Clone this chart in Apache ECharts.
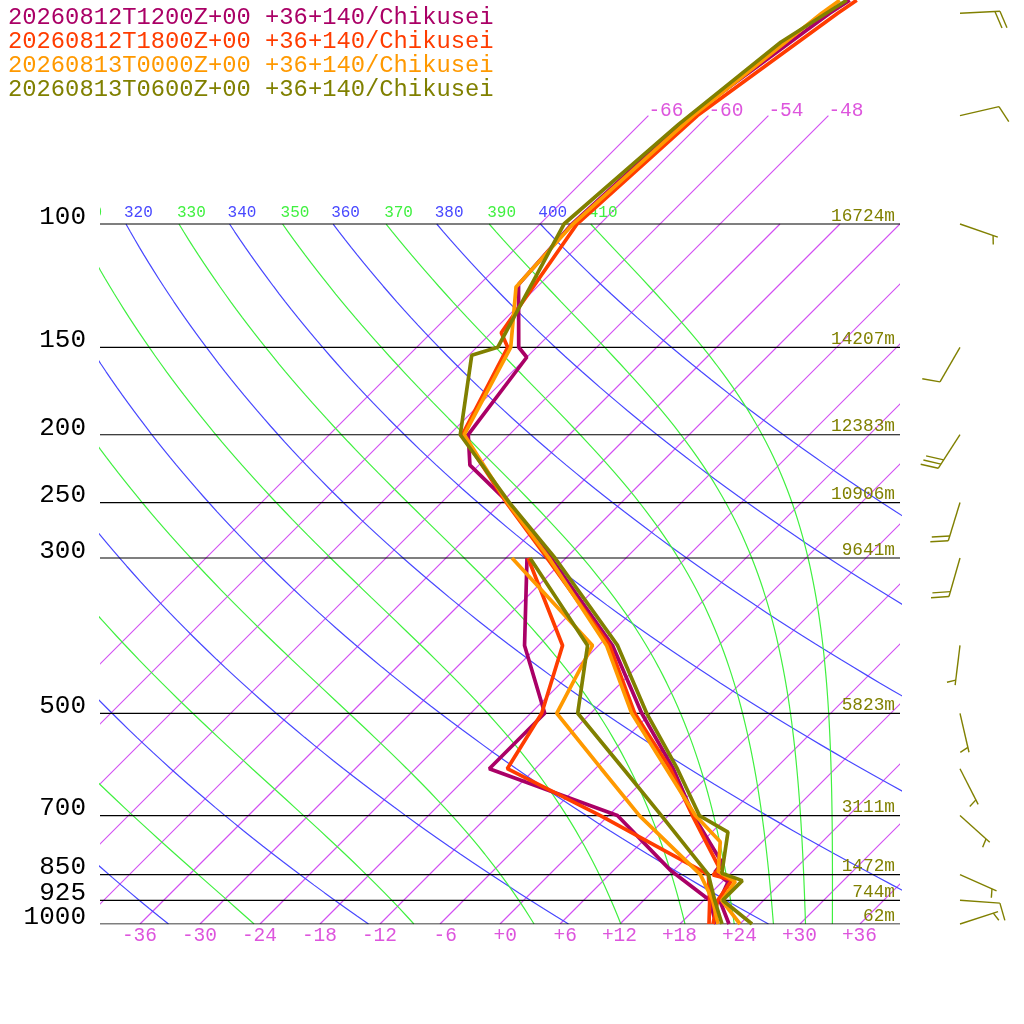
<!DOCTYPE html>
<html><head><meta charset="utf-8">
<script src="https://cdn.jsdelivr.net/npm/echarts@6/dist/echarts.min.js"></script>
<style>html,body{margin:0;padding:0;background:#fff}#c{width:1024px;height:1024px}</style>
</head><body><div id="c"></div>
<script>
// ---------------- data ----------------
const TITLES = [
  '20260812T1200Z+00 +36+140/Chikusei',
  '20260812T1800Z+00 +36+140/Chikusei',
  '20260813T0000Z+00 +36+140/Chikusei',
  '20260813T0600Z+00 +36+140/Chikusei'
];
// 1200Z
const P_1200  = [1000, 925, 871, 843, 818, 700, 600, 500, 400, 300, 250, 221, 200, 155, 150, 122, 100, 70, 50, 47.9];
const T_1200  = [22.9, 19.6, 18.6, 16.3, 16.1, 8.5, 1.8, -6.9, -16.6, -31.5, -41.3, -48.9, -52.1, -54.0, -55.8, -62.1, -62.8, -61.8, -58.1, -57.4];
const PD_1200 = [1000, 925, 837, 700, 600, 500, 400, 300];
const TD_1200 = [21.6, 18.6, 11.6, 0.9, -16.6, -16.6, -25.4, -33.9];
// 1800Z
const P_1800  = [1000, 925, 865, 851, 833, 700, 600, 500, 400, 300, 250, 200, 150, 143, 100, 70, 50, 47.9];
const T_1800  = [21.3, 19.4, 18.8, 16.4, 16.4, 8.4, 1.5, -7.6, -16.9, -31.9, -41.5, -52.7, -56.9, -59.0, -62.3, -61.1, -57.3, -56.7];
const PD_1800 = [1000, 925, 850, 700, 600, 500, 400, 300];
const TD_1800 = [20.9, 18.6, 15.9, -0.8, -14.8, -16.9, -21.6, -33.8];
// 0000Z
const P_0000  = [1000, 925, 870, 842, 763, 700, 600, 500, 400, 300, 250, 200, 150, 123, 100, 70, 50, 47.9];
const T_0000  = [24.0, 19.8, 19.3, 16.6, 13.8, 8.7, 1.1, -7.9, -17.2, -31.7, -41.4, -52.5, -56.6, -62.1, -62.7, -61.5, -58.9, -58.4];
const PD_0000 = [1000, 925, 850, 700, 600, 500, 400, 300];
const TD_0000 = [21.8, 18.9, 15.1, 3.1, -5.4, -15.4, -18.6, -35.4];
// 0600Z
const P_0600  = [1000, 925, 867, 846, 739, 700, 600, 500, 400, 300, 250, 200, 154, 150, 100, 72, 55, 47.9];
const T_0600  = [25.2, 19.9, 19.9, 17.1, 13.6, 9.1, 2.2, -6.4, -16.1, -31.1, -41.2, -52.9, -59.7, -57.9, -63.6, -62.1, -60.1, -57.7];
const PD_0600 = [1000, 925, 850, 700, 600, 500, 400, 300];
const TD_0600 = [22.2, 19.1, 15.9, 5.3, -3.2, -13.3, -19.1, -33.6];

const LEVELS = [100, 150, 200, 250, 300, 500, 700, 850, 925, 1000];
const LEVEL_LABELS = ['100', '150', '200', '250', '300', '500', '700', '850', '925', '1000'];
const HEIGHT_LABELS = ['16724m', '14207m', '12383m', '10906m', '9641m', '5823m', '3111m', '1472m', '744m', '62m'];

const X_TICKS = [-36, -30, -24, -18, -12, -6, 0, 6, 12, 18, 24, 30, 36];
const X_TICK_LABELS = ['-36', '-30', '-24', '-18', '-12', '-6', '+0', '+6', '+12', '+18', '+24', '+30', '+36'];

const ISOTHERMS = [-66, -60, -54, -48, -42, -36, -30, -24, -18, -12, -6, 0, 6, 12, 18, 24, 30, 36];
const ISO_LABELLED = [-66, -60, -54, -48];
const DRY_THETA = [240, 260, 280, 300, 320, 340, 360, 380, 400];
const MOIST_THETAE = [250, 270, 290, 310, 330, 350, 370, 390, 410];

const WIND_P   = [50, 70, 100, 150, 200, 250, 300, 400, 500, 600, 700, 850, 925, 1000];
const WIND_DIR = [87, 77, 109, 210, 213, 197, 196, 187, 167, 153, 132, 114, 94, 72];
const WIND_KT  = [20, 10, 5, 10, 30, 20, 20, 5, 5, 5, 5, 5, 10, 5];

// ---------------- geometry / style ----------------
const COLORS = ['#aa0066', '#ff3c00', '#ff9900', '#808000'];
const ISO_COLOR = '#d250f2';
const ISO_TEXT = '#dd55dd';
const DRY_COLOR = '#4848ff';
const MOIST_COLOR = '#40f040';
const FONT = '"Liberation Mono", "DejaVu Sans Mono", monospace';
const PTOP = 1000 * Math.exp(-924 / 304);
const SKEW = 30.4;
const BARB_X = 46;
function X(T, p) { return T + SKEW * Math.log(1000 / p); }

// thermodynamics for guide lines
function esat(Tk) { const c = Tk - 273.15; return 6.112 * Math.exp(17.67 * c / (c + 243.5)); }
function thetaE(Tk, p) {
  const es = esat(Tk); const r = 622 * es / (p - es);
  return Tk * Math.pow(1000 / p, 0.2854 * (1 - 0.00028 * r)) * Math.exp((3.376 / Tk - 0.00254) * r * (1 + 0.00081 * r));
}
function satT(the, p) {
  let lo = 150, hi = 330;
  while (esat(hi) > 0.5 * p) hi -= 0.5;
  for (let i = 0; i < 60; i++) { const m = (lo + hi) / 2; if (thetaE(m, p) < the) lo = m; else hi = m; }
  return (lo + hi) / 2;
}
const PG = []; for (let i = 0; i <= 90; i++) PG.push(1000 * Math.pow(0.1, i / 90));

function lineS(data, color, width, z) {
  return { type: 'line', data: data, symbol: 'none', showSymbol: false, silent: true, animation: false,
    clip: true, z: z, color: color, itemStyle: { color: color },
    lineStyle: { color: color, width: width, opacity: 1 }, emphasis: { disabled: true } };
}
function textS(coords, texts, o) {
  return {
    type: 'custom', silent: true, animation: false, clip: !!o.clip, z: o.z || 6, data: coords,
    renderItem: function (params, api) {
      const pt = api.coord([api.value(0), api.value(1)]);
      const i = params.dataIndex;
      return { type: 'text', style: { text: texts[i], x: pt[0] + o.dx, y: pt[1] + o.dy,
        fill: Array.isArray(o.color) ? o.color[i] : o.color, font: o.font, align: o.align, verticalAlign: 'middle' } };
    }
  };
}

const series = [];
// isotherms
series.push({
  type: 'custom', silent: true, animation: false, clip: true, z: 1,
  data: ISOTHERMS.map(t => [t, 1000]),
  renderItem: function (params, api) {
    const t = ISOTHERMS[params.dataIndex];
    const ptop = ISO_LABELLED.indexOf(t) >= 0 ? 70 : 100;
    const a = api.coord([X(t, 1000), 1000]);
    const b = api.coord([X(t, ptop), ptop]);
    return { type: 'line', shape: { x1: a[0], y1: a[1], x2: b[0], y2: b[1] }, style: { stroke: ISO_COLOR, lineWidth: 1.2 } };
  }
});
// dry adiabats
DRY_THETA.forEach(function (th) {
  series.push(lineS(PG.map(p => [X(th * Math.pow(p / 1000, 0.2857) - 273.15, p), p]), DRY_COLOR, 1.2, 1));
});
// moist adiabats
MOIST_THETAE.forEach(function (te) {
  series.push(lineS(PG.map(p => [X(satT(te, p) - 273.15, p), p]), MOIST_COLOR, 1.2, 1));
});
// pressure lines
LEVELS.forEach(function (p) { series.push(lineS([[-40, p], [40, p]], '#000000', 1.2, 2)); });

// adiabat labels
const adLabCoords = [], adLabTexts = [], adLabColors = [];
DRY_THETA.forEach(function (th) { adLabCoords.push([X(th * Math.pow(0.1, 0.2857) - 273.15, 100), 100]); adLabTexts.push(String(th)); adLabColors.push(DRY_COLOR); });
MOIST_THETAE.forEach(function (te) { adLabCoords.push([X(satT(te, 100) - 273.15, 100), 100]); adLabTexts.push(String(te)); adLabColors.push(MOIST_COLOR); });
series.push(textS(adLabCoords, adLabTexts, { dx: -2, dy: -11, align: 'left', color: adLabColors, font: '16px ' + FONT, clip: true }));
// isotherm labels
series.push(textS(ISO_LABELLED.map(t => [X(t, 70), 70]), ISO_LABELLED.map(String), { dx: 0, dy: -5, align: 'left', color: ISO_TEXT, font: '19.5px ' + FONT }));
// bottom tick labels
series.push(textS(X_TICKS.map(t => [t, 1000]), X_TICK_LABELS, { dx: 17, dy: 12, align: 'right', color: ISO_TEXT, font: '19.5px ' + FONT }));
// pressure labels
series.push(textS(LEVELS.map(p => [-40, p]), LEVEL_LABELS, { dx: -14, dy: -7, align: 'right', color: '#000', font: '26px ' + FONT }));
// height labels
series.push(textS(LEVELS.map(p => [40, p]), HEIGHT_LABELS, { dx: -5, dy: -8, align: 'right', color: '#808000', font: '17.8px ' + FONT }));

// profiles
const PROFILES = [[P_1200, T_1200, PD_1200, TD_1200], [P_1800, T_1800, PD_1800, TD_1800],
                  [P_0000, T_0000, PD_0000, TD_0000], [P_0600, T_0600, PD_0600, TD_0600]];
PROFILES.forEach(function (pr, k) {
  series.push(lineS(pr[2].map((p, i) => [X(pr[3][i], p), p]), COLORS[k], 3.7, 10 + k));
  series.push(lineS(pr[0].map((p, i) => [X(pr[1][i], p), p]), COLORS[k], 3.7, 10 + k));
});

// wind barbs
series.push({
  type: 'custom', silent: true, animation: false, clip: false, z: 20,
  data: WIND_P.map(p => [BARB_X, p]),
  renderItem: function (params, api) {
    const i = params.dataIndex;
    const pt = api.coord([api.value(0), api.value(1)]);
    const d = WIND_DIR[i] * Math.PI / 180;
    const ux = Math.sin(d), uy = -Math.cos(d);
    const L = 40, step = 5, a = 70 * Math.PI / 180;
    const vx = Math.cos(a) * ux - Math.sin(a) * uy, vy = Math.sin(a) * ux + Math.cos(a) * uy;
    const tip = [pt[0] + L * ux, pt[1] + L * uy];
    const st = { stroke: '#808000', lineWidth: 1.4 };
    const ch = [{ type: 'line', shape: { x1: pt[0], y1: pt[1], x2: tip[0], y2: tip[1] }, style: st }];
    let s = Math.round(WIND_KT[i] / 5) * 5;
    const n50 = Math.floor(s / 50); s -= n50 * 50;
    const n10 = Math.floor(s / 10); s -= n10 * 10;
    const n5 = s >= 5 ? 1 : 0;
    let pos = (n50 === 0 && n10 === 0) ? step : 0;
    for (let k = 0; k < n50; k++) {
      const b = [tip[0] - pos * ux, tip[1] - pos * uy];
      const b2 = [tip[0] - (pos + 8) * ux, tip[1] - (pos + 8) * uy];
      ch.push({ type: 'polygon', shape: { points: [b, [b[0] + 18 * vx, b[1] + 18 * vy], b2] }, style: { fill: '#808000' } });
      pos += 10;
    }
    for (let k = 0; k < n10; k++) {
      const b = [tip[0] - pos * ux, tip[1] - pos * uy];
      ch.push({ type: 'line', shape: { x1: b[0], y1: b[1], x2: b[0] + 18 * vx, y2: b[1] + 18 * vy }, style: st });
      pos += step;
    }
    if (n5) {
      const b = [tip[0] - pos * ux, tip[1] - pos * uy];
      ch.push({ type: 'line', shape: { x1: b[0], y1: b[1], x2: b[0] + 9 * vx, y2: b[1] + 9 * vy }, style: st });
    }
    return { type: 'group', children: ch };
  }
});

const chart = echarts.init(document.getElementById('c'), null, { renderer: 'canvas' });
chart.setOption({
  animation: false,
  backgroundColor: '#fff',
  grid: { left: 100, right: 124, top: 0, bottom: 100, containLabel: false },
  xAxis: { type: 'value', min: -40, max: 40, show: false, splitLine: { show: false } },
  yAxis: { type: 'log', logBase: 10, min: PTOP, max: 1000, inverse: true, show: false, splitLine: { show: false } },
  graphic: TITLES.map((t, i) => ({ type: 'text', x: 8, y: 17.5 + 24 * i, silent: true,
    style: { text: t, fill: COLORS[i], font: '23.8px ' + FONT, verticalAlign: 'middle', align: 'left' } })),
  series: series
});
</script>
</body></html>
